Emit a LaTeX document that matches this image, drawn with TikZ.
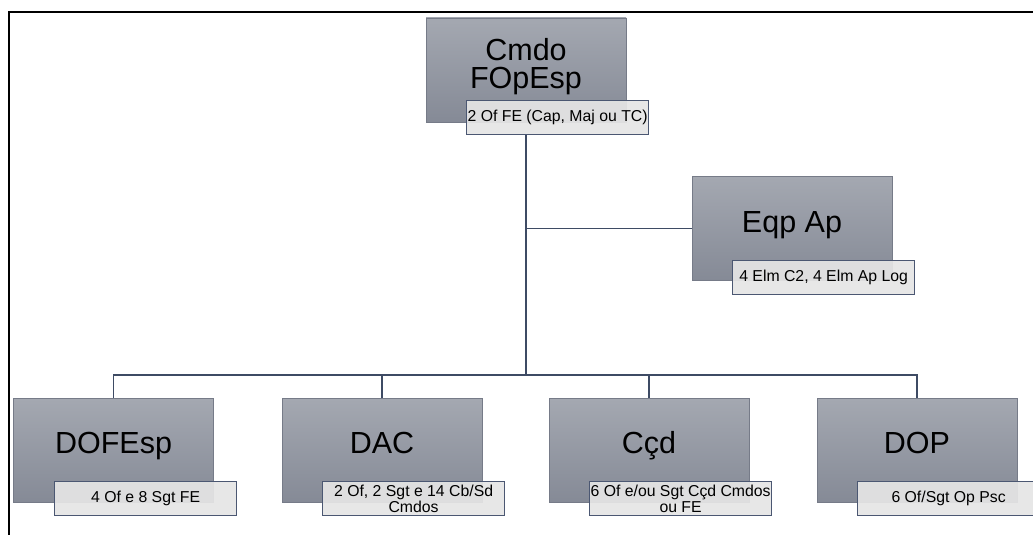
\documentclass[tikz,border=0pt]{standalone}
\usepackage{fontspec}
\setmainfont{Liberation Sans}
\definecolor{boxtop}{RGB}{164,168,177}
\definecolor{boxbot}{RGB}{133,138,150}
\definecolor{boxedge}{RGB}{118,123,136}
\definecolor{tagfill}{RGB}{229,229,229}
\definecolor{tagedge}{RGB}{75,87,114}
\definecolor{linkc}{RGB}{62,75,100}
\tikzset{
  unit/.style={rectangle, minimum width=200pt, minimum height=104pt, inner sep=0pt,
    top color=boxtop, bottom color=boxbot, draw=boxedge, line width=0.6pt},
  title/.style={font=\fontsize{30.5}{28}\selectfont, align=center, inner sep=0pt},
  tag/.style={rectangle, minimum width=182pt, minimum height=34pt, inner sep=1pt,
    fill=tagfill, fill opacity=0.93, text opacity=1, draw=tagedge, line width=1.2pt,
    font=\fontsize{15.8}{15.5}\selectfont, align=center, anchor=north west},
  link/.style={draw=linkc, line width=1.2pt},
  frame/.style={draw=black, line width=2pt}
}
\begin{document}
\begin{tikzpicture}[x=1pt, y=-1pt]
  \useasboundingbox (0,0) rectangle (1033,535);
  % outer frame (top and left edges)
  \draw[frame] (9,536) -- (9,12) -- (1034,12);

  % command element
  \node[unit] (cmdo) at (526,70) {};
  \node[title] (cmdot) at (526,67) {Cmdo\\FOpEsp};
  \node[tag] (cmdotag) at (466,100) {2 Of FE (Cap, Maj ou TC)};

  % support team
  \node[unit] (eqp) at (792,228.5) {};
  \node[title, anchor=base] (eqpt) at (792,232) {Eqp Ap};
  \node[tag] (eqptag) at (732,260) {4 Elm C2, 4 Elm Ap Log};

  % subordinate elements
  \node[unit] (dofesp) at (113.5,450.5) {};
  \node[title, anchor=base] (dofespt) at (113.5,453) {DOFEsp};
  \node[tag] (dofesptag) at (54,481) {4 Of e 8 Sgt FE};

  \node[unit] (dac) at (382,450.5) {};
  \node[title, anchor=base] (dact) at (382,453) {DAC};
  \node[tag] (dactag) at (322,481) {2 Of, 2 Sgt e 14 Cb/Sd\\Cmdos};

  \node[unit] (ccd) at (649,450.5) {};
  \node[title, anchor=base] (ccdt) at (649,453) {Cçd};
  \node[tag] (ccdtag) at (589,481) {6 Of e/ou Sgt Cçd Cmdos\\ou FE};

  \node[unit] (dop) at (917,450.5) {};
  \node[title, anchor=base] (dopt) at (917,453) {DOP};
  \node[tag] (doptag) at (857,481) {6 Of/Sgt Op Psc};

  % connectors
  \coordinate (hub) at (526,375);
  \draw[link] (cmdo.center |- cmdotag.south) -- (hub);
  \draw[link] (cmdo.center |- eqp.west) -- (eqp.west);
  \draw[link] (dofesp.north) |- (hub) -| (dop.north);
  \draw[link] (dac.north) -- (dac.north |- hub);
  \draw[link] (ccd.north) -- (ccd.north |- hub);
\end{tikzpicture}
\end{document}
